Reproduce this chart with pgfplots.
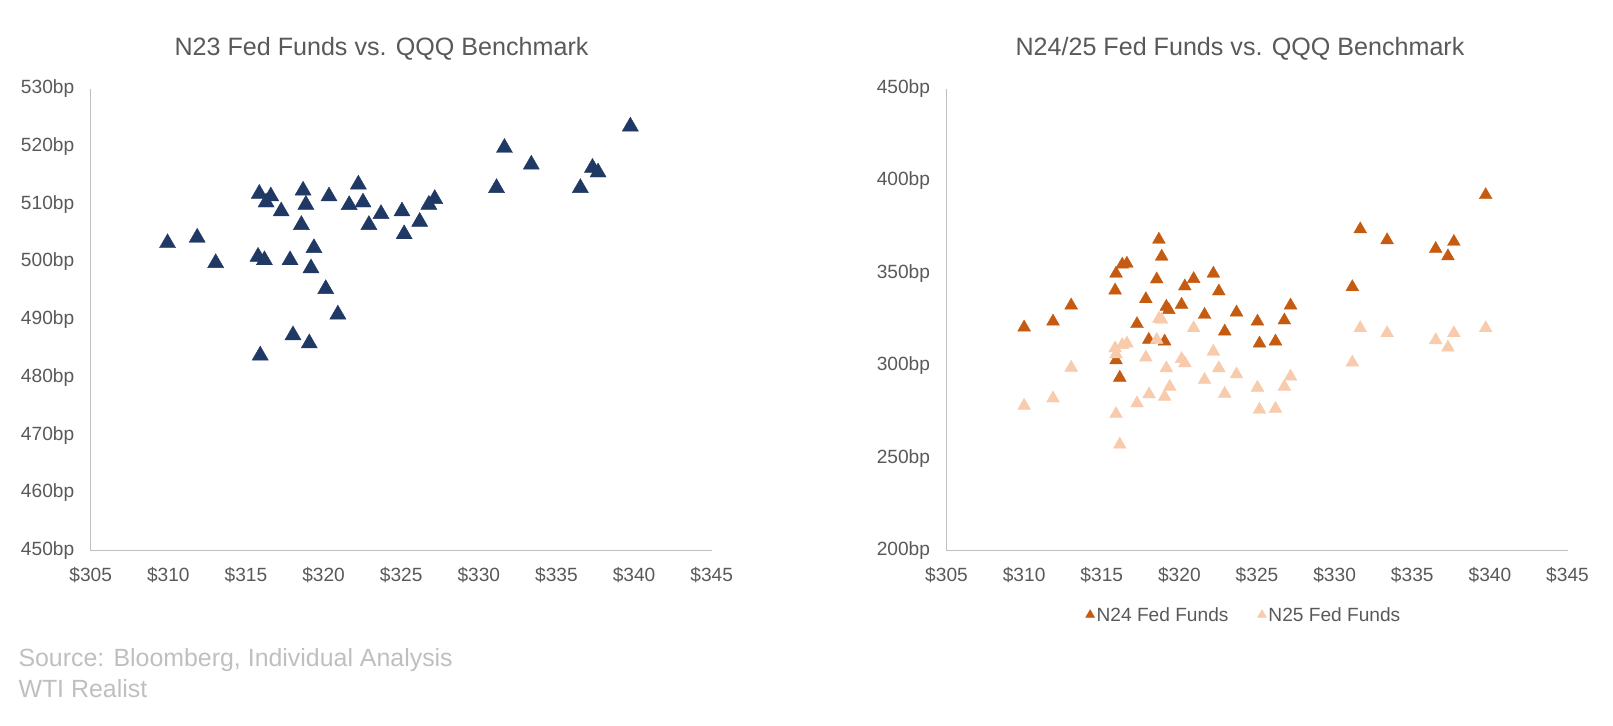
\documentclass[border=0pt]{standalone}
\usepackage{fontspec}
\setmainfont{Liberation Sans}
\usepackage{pgfplots}
\usepackage{pgfplotstable}
\pgfplotsset{compat=1.18}
\definecolor{navy}{HTML}{1F3864}
\definecolor{dorange}{HTML}{C55A11}
\definecolor{lorange}{HTML}{F8CBAD}
\definecolor{axgray}{HTML}{BFBFBF}
\definecolor{txtgray}{HTML}{595959}
\definecolor{srcgray}{HTML}{BFBFBF}

\pgfplotstableread{
x y
309.95 502.85
311.86 503.8
313.05 499.4
315.86 511.4
316.6 510.95
316.3 509.9
317.27 508.35
318.68 511.95
318.86 509.5
318.57 506.0
320.35 510.95
321.65 509.45
322.24 513.0
322.54 509.9
322.92 506.0
323.7 507.9
325.05 508.35
325.19 504.4
326.19 506.55
326.78 509.5
327.16 510.5
315.78 500.5
316.19 499.9
317.84 499.9
319.38 502.0
319.19 498.5
320.14 494.9
320.92 490.5
318.03 486.9
319.08 485.5
315.92 483.4
331.14 512.4
331.65 519.35
333.38 516.45
336.54 512.4
337.32 515.9
337.68 515.1
339.76 523.05
}\nthree

\pgfplotstableread{
x y
310.0 319.8
311.86 323.0
313.03 331.7
315.92 348.9
315.86 339.8
315.92 302.0
316.16 292.6
316.32 353.8
316.62 354.3
317.27 321.6
318.68 367.3
318.86 358.1
318.54 345.8
317.84 335.1
318.03 313.1
319.05 312.2
319.16 331.0
319.32 329.2
320.14 332.1
320.35 342.0
320.92 346.0
321.62 326.6
322.19 348.9
322.54 339.3
322.92 317.6
323.68 327.9
325.03 323.0
325.16 311.1
326.19 312.2
326.76 323.6
327.16 331.7
331.14 341.6
331.65 372.9
333.38 367.0
336.51 362.3
337.30 358.3
337.68 366.1
339.73 391.4
}\nfour

\pgfplotstableread{
x y
310.0 277.4
311.86 281.4
313.03 298.0
315.86 308.5
315.92 305.3
315.92 272.9
316.16 256.4
316.32 310.3
316.62 311.1
317.27 278.7
317.84 303.5
318.05 283.6
318.54 313.1
318.68 324.5
318.86 323.9
319.05 282.3
319.16 297.7
319.38 287.7
320.14 302.7
320.35 300.4
320.92 319.4
321.62 291.4
322.19 306.7
322.54 297.7
322.92 283.9
323.68 294.4
325.03 287.2
325.16 275.3
326.19 275.8
326.76 287.7
327.16 293.2
331.14 300.8
331.65 319.4
333.38 316.7
336.51 312.9
337.30 308.9
337.68 316.7
339.73 319.4
}\nfive

\pgfplotsset{myaxis/.style={
  scale only axis, width=621bp, height=462bp, anchor=south west,
  axis x line*=bottom, axis y line*=left,
  axis line style={-, draw=axgray, line width=1.5bp},
  major tick length=0pt, tick style={draw=none},
  xmin=305, xmax=345, xtick={305,310,...,345},
  xticklabels={\$305,\$310,\$315,\$320,\$325,\$330,\$335,\$340,\$345},
  ticklabel style={font=\fontsize{19.2}{23}\selectfont, text=txtgray},
  xticklabel style={yshift=-13bp},
  yticklabel style={xshift=-13bp},
  clip=false,
}}

\begin{document}
\begin{tikzpicture}
\path[use as bounding box] (0bp,0bp) rectangle (1613bp,726bp);

\node[font=\fontsize{25.2}{29}\selectfont, text=txtgray] at (381.5bp,677.5bp) {N23 Fed Funds vs. QQQ Benchmark};
\node[font=\fontsize{25.2}{29}\selectfont, text=txtgray] at (1240bp,677.5bp) {N24/25 Fed Funds vs. QQQ Benchmark};

\begin{axis}[myaxis, at={(90.7bp,175.4bp)},
  ymin=450, ymax=530, ytick={450,460,...,530},
  yticklabels={450bp,460bp,470bp,480bp,490bp,500bp,510bp,520bp,530bp}]
\addplot[only marks, mark=triangle*, mark size=9.3bp, color=navy,
  mark options={fill=navy, draw=navy, yshift=2.3bp}] table[x=x,y=y] {\nthree};
\end{axis}

\begin{axis}[myaxis, at={(946.5bp,175.4bp)},
  ymin=200, ymax=450, ytick={200,250,...,450},
  yticklabels={200bp,250bp,300bp,350bp,400bp,450bp},
  legend style={at={(0.479,-0.139)}, anchor=center, draw=none, fill=none,
    legend columns=2, font=\fontsize{19.2}{23}\selectfont, text=txtgray,
    /tikz/every even column/.append style={column sep=27bp}},
  legend image code/.code={\draw[#1, mark size=5.2bp, mark options={yshift=0bp}] plot coordinates {(0bp,0bp)};}]
\addplot[only marks, mark=triangle*, mark size=7.4bp, color=dorange,
  mark options={fill=dorange, draw=dorange, yshift=1.85bp}] table[x=x,y=y] {\nfour};
\addlegendentry{N24 Fed Funds}
\addplot[only marks, mark=triangle*, mark size=7.4bp, color=lorange,
  mark options={fill=lorange, draw=lorange, yshift=1.85bp}] table[x=x,y=y] {\nfive};
\addlegendentry{N25 Fed Funds}
\end{axis}

\node[anchor=west, font=\fontsize{25}{29}\selectfont, text=srcgray] at (15bp,66bp) {Source: Bloomberg, Individual Analysis};
\node[anchor=west, font=\fontsize{25}{29}\selectfont, text=srcgray] at (15bp,37bp) {WTI Realist};
\end{tikzpicture}
\end{document}
